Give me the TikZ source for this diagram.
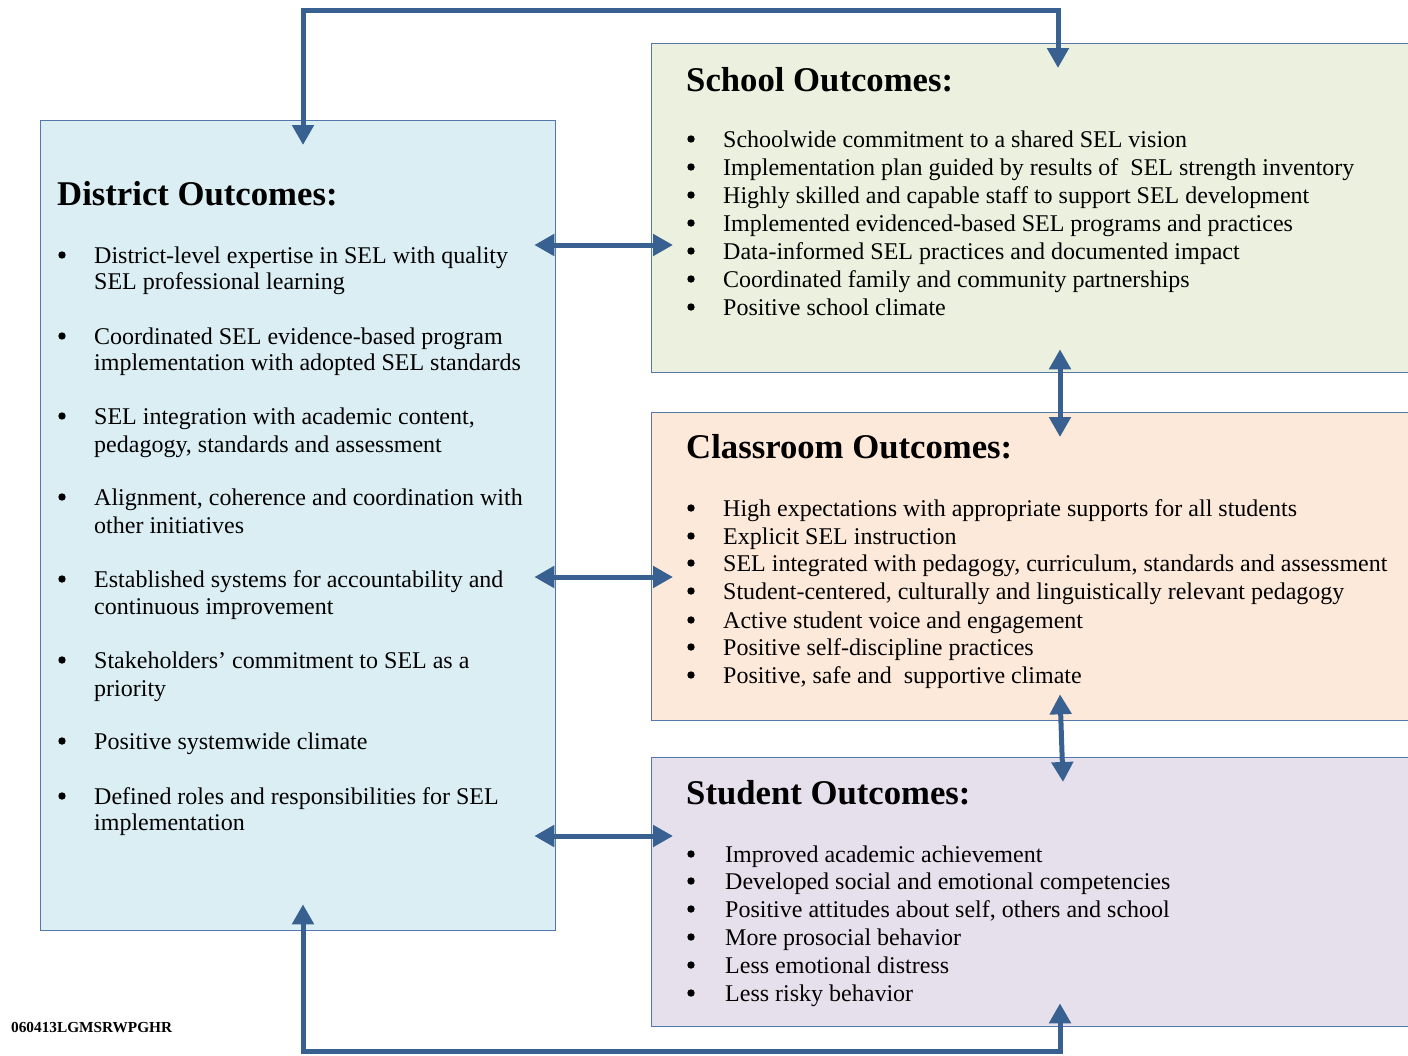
\documentclass[tikz,border=0pt]{standalone}
\usepackage{fontspec}
\setmainfont{Liberation Serif}
\usetikzlibrary{arrows.meta}
\definecolor{distfill}{RGB}{219,238,243}
\definecolor{schoolfill}{RGB}{235,241,222}
\definecolor{classfill}{RGB}{253,233,217}
\definecolor{studfill}{RGB}{229,224,236}
\definecolor{boxline}{RGB}{85,120,172}
\definecolor{arrowc}{RGB}{56,97,146}
\newcommand\mybul[1][36pt]{\hspace*{#1}}
\begin{document}
\begin{tikzpicture}[x=1pt,y=-1pt,
  outbox/.style={draw=boxline,line width=1.3pt,anchor=north west,inner sep=0pt},
  ttl/.style={anchor=base west,inner sep=0pt,font=\fontsize{34.7pt}{40pt}\selectfont\bfseries},
  item/.style={anchor=base west,inner sep=0pt,font=\fontsize{24pt}{28pt}\selectfont},
  codetxt/.style={anchor=base west,inner sep=0pt,font=\fontsize{15.3pt}{18pt}\selectfont\bfseries},
  bulletdot/.style={fill=black},
  conn/.style={draw=arrowc,line width=5pt,{Triangle[length=20pt,width=21pt]}-{Triangle[length=20pt,width=21pt]}}]
\useasboundingbox (0,0) rectangle (1408,1055);
\clip (0,0) rectangle (1408,1055);
% boxes
\node[outbox,fill=distfill,minimum width=515pt,minimum height=810pt] (district) at (40,120) {};
\node[outbox,fill=schoolfill,minimum width=780pt,minimum height=329pt] (school) at (651,43) {};
\node[outbox,fill=classfill,minimum width=780pt,minimum height=308pt] (classroom) at (651,412) {};
\node[outbox,fill=studfill,minimum width=780pt,minimum height=269pt] (student) at (651,757) {};
% titles
\node[ttl] (dt) at (57,205) {District Outcomes:};
\node[ttl] (st) at (686,91) {School Outcomes:};
\node[ttl] (ct) at (686,458) {Classroom Outcomes:};
\node[ttl] (ut) at (686,804) {Student Outcomes:};
% district items
\node[item] (d1) at (58,263) {\mybul District-level expertise in SEL with quality};
\node[item] (d1b) at (94,289) {SEL professional learning};
\node[item] (d2) at (58,344) {\mybul Coordinated SEL evidence-based program};
\node[item] (d2b) at (94,370) {implementation with adopted SEL standards};
\node[item] (d3) at (58,424) {\mybul SEL integration with academic content,};
\node[item] (d3b) at (94,452) {pedagogy, standards and assessment};
\node[item] (d4) at (58,505) {\mybul Alignment, coherence and coordination with};
\node[item] (d4b) at (94,533) {other initiatives};
\node[item] (d5) at (58,587) {\mybul Established systems for accountability and};
\node[item] (d5b) at (94,614) {continuous improvement};
\node[item] (d6) at (58,668) {\mybul Stakeholders’ commitment to SEL as a};
\node[item] (d6b) at (94,696) {priority};
\node[item] (d7) at (58,749) {\mybul Positive systemwide climate};
\node[item] (d8) at (58,804) {\mybul Defined roles and responsibilities for SEL};
\node[item] (d8b) at (94,830) {implementation};
% school items
\node[item] (s1) at (687,147) {\mybul Schoolwide commitment to a shared SEL vision};
\node[item] (s2) at (687,175) {\mybul Implementation plan guided by results of\ \ SEL strength inventory};
\node[item] (s3) at (687,203) {\mybul Highly skilled and capable staff to support SEL development};
\node[item] (s4) at (687,231) {\mybul Implemented evidenced-based SEL programs and practices};
\node[item] (s5) at (687,259) {\mybul Data-informed SEL practices and documented impact};
\node[item] (s6) at (687,287) {\mybul Coordinated family and community partnerships};
\node[item] (s7) at (687,315) {\mybul Positive school climate};
% classroom items
\node[item] (c1) at (687,516) {\mybul High expectations with appropriate supports for all students};
\node[item] (c2) at (687,544) {\mybul Explicit SEL instruction};
\node[item] (c3) at (687,571) {\mybul SEL integrated with pedagogy, curriculum, standards and assessment};
\node[item] (c4) at (687,599) {\mybul Student-centered, culturally and linguistically relevant pedagogy};
\node[item] (c5) at (687,628) {\mybul Active student voice and engagement};
\node[item] (c6) at (687,655) {\mybul Positive self-discipline practices};
\node[item] (c7) at (687,683) {\mybul Positive, safe and\ \ supportive climate};
% student items
\node[item] (u1) at (687,862) {\mybul[38pt]Improved academic achievement};
\node[item] (u2) at (687,889) {\mybul[38pt]Developed social and emotional competencies};
\node[item] (u3) at (687,917) {\mybul[38pt]Positive attitudes about self, others and school};
\node[item] (u4) at (687,945) {\mybul[38pt]More prosocial behavior};
\node[item] (u5) at (687,973) {\mybul[38pt]Less emotional distress};
\node[item] (u6) at (687,1001) {\mybul[38pt]Less risky behavior};
% bullets
\foreach \n in {d1,d2,d3,d4,d5,d6,d7,d8,s1,s2,s3,s4,s5,s6,s7,c1,c2,c3,c4,c5,c6,c7,u1,u2,u3,u4,u5,u6}
  \fill[bulletdot] ([xshift=4pt,yshift=8pt]\n.base west) circle (3.7pt);
% code
\node[codetxt] (code) at (11,1032) {060413LGMSRWPGHR};
% connector guide coordinates
\coordinate (topL) at (303,10);
\coordinate (topR) at (1058,10);
\coordinate (botL) at (303,1051);
\coordinate (botR) at (1060,1051);
\coordinate (h1) at (0,245);
\coordinate (h2) at (0,577);
\coordinate (h3) at (0,836);
\coordinate (v1) at (1060,0);
\coordinate (v2) at (1063,0);
% connectors
\draw[conn] ([yshift=-25pt]district.north -| topL) -- (topL) -- (topR) -- ([yshift=-25pt]school.north -| topR);
\draw[conn] ([yshift=27pt]district.south -| botL) -- (botL) -- (botR) -- ([yshift=24pt]student.south -| botR);
\draw[conn] ([xshift=-22pt]district.east |- h1) -- ([xshift=22pt]school.west |- h1);
\draw[conn] ([xshift=-22pt]district.east |- h2) -- ([xshift=22pt]classroom.west |- h2);
\draw[conn] ([xshift=-22pt]district.east |- h3) -- ([xshift=22pt]student.west |- h3);
\draw[conn] ([yshift=24pt]school.south -| v1) -- ([yshift=-25pt]classroom.north -| v1);
\draw[conn] ([yshift=27pt]classroom.south -| v1) -- ([yshift=-25pt]student.north -| v2);
\end{tikzpicture}
\end{document}
